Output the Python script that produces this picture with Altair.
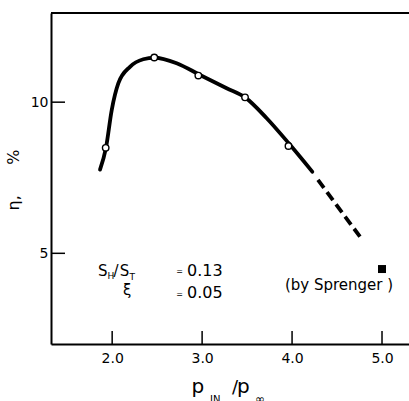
import altair as alt
import pandas as pd

# Efficiency curve, eta (%) vs pressure ratio p_IN / p_inf
curve_x = [1.865, 1.931, 1.995, 2.068, 2.198, 2.346, 2.468, 2.717, 2.977,
           3.273, 3.477, 3.718, 3.963, 4.225]
curve_y = [7.77, 8.49, 9.74, 10.62, 11.17, 11.42, 11.47, 11.29, 10.90,
           10.46, 10.16, 9.47, 8.64, 7.70]

# Extrapolated (dashed) continuation
dash_x = [4.288, 4.755]
dash_y = [7.43, 5.55]

# Measured points
meas_x = [1.928, 2.468, 2.958, 3.477, 3.960]
meas_y = [8.49, 11.48, 10.88, 10.16, 8.55]

# Sprenger's value
spr_x = [5.0]
spr_y = [4.48]

x_ticks = [2.0, 3.0, 4.0, 5.0]
y_ticks = [5, 10]

W, H = 358, 331
FONT = "DejaVu Sans"
NB = "\u00a0"

xs = alt.Scale(domain=[1.32, 5.30], nice=False, zero=False)
ys = alt.Scale(domain=[2.0, 12.95], nice=False, zero=False)

xa = alt.Axis(values=x_ticks, format=".1f", title=None, ticks=False, tickSize=0,
              grid=False, domainColor="black", domainWidth=2,
              labelFont=FONT, labelFontSize=14, labelColor="black",
              labelPadding=7, labelFlush=False)
ya = alt.Axis(values=y_ticks, format="d", ticks=False, tickSize=0, grid=False,
              domainColor="black", domainWidth=2,
              labelFont=FONT, labelFontSize=14, labelColor="black",
              labelPadding=3,
              title="η," + NB * 6 + "%", titleFont=FONT, titleFontSize=16,
              titleFontWeight="normal", titleColor="black", titleAngle=270,
              titleX=-38, titleY=166.5, titleAlign="center",
              titleBaseline="middle")

X = lambda f: alt.X(f, type="quantitative", scale=xs, axis=xa)
Y = lambda f: alt.Y(f, type="quantitative", scale=ys, axis=ya)

curve = alt.Chart(pd.DataFrame({"x": curve_x, "y": curve_y})).mark_line(
    color="black", strokeWidth=3.8, interpolate="monotone", strokeCap="round"
).encode(x=X("x"), y=Y("y"))

dashed = alt.Chart(pd.DataFrame({"x": dash_x, "y": dash_y})).mark_line(
    color="black", strokeWidth=3.8, strokeDash=[10, 5.2]
).encode(x=X("x"), y=Y("y"))

points = alt.Chart(pd.DataFrame({"x": meas_x, "y": meas_y})).mark_circle(
    size=42, fill="white", stroke="black", strokeWidth=1.4, opacity=1
).encode(x=X("x"), y=Y("y"))

sprenger = alt.Chart(pd.DataFrame({"x": spr_x, "y": spr_y})).mark_square(
    size=64, color="black", opacity=1
).encode(x=X("x"), y=Y("y"))

# inward tick marks
xtick = alt.Chart(pd.DataFrame({"x": x_ticks})).mark_rule(
    color="black", strokeWidth=1.5
).encode(x=X("x"), y=alt.value(H), y2=alt.value(H - 13))

ytick = alt.Chart(pd.DataFrame({"y": y_ticks})).mark_rule(
    color="black", strokeWidth=1.5
).encode(y=Y("y"), x=alt.value(0), x2=alt.value(14))

# top frame line
top = alt.Chart(pd.DataFrame({"k": [0]})).mark_rule(
    color="black", strokeWidth=2
).encode(x=alt.value(0), x2=alt.value(W), y=alt.value(0))

# text pieces: label, x, y, font size
ann_t = ["S", "H", "/", "S", "T", "=", "0.13",
         "ξ", "=", "0.05",
         "(by Sprenger" + NB + ")",
         "p", "IN", "/", "p", "∞"]
ann_x = [1.843, 1.947, 2.016, 2.083, 2.192, 2.712, 2.832,
         2.120, 2.712, 2.832,
         3.921,
         2.882, 3.088, 3.332, 3.388, 3.588]
ann_y = [4.25, 4.14, 4.25, 4.25, 4.12, 4.30, 4.25,
         3.62, 3.57, 3.52,
         3.80,
         0.38, 0.04, 0.38, 0.38, 0.06]
ann_fs = [15, 9, 15, 15, 9, 8, 16,
          15, 8, 16,
          15,
          20, 10, 18, 20, 12]

texts = alt.Chart(pd.DataFrame({"t": ann_t, "x": ann_x, "y": ann_y, "fs": ann_fs})).mark_text(
    align="left", baseline="alphabetic", font=FONT, color="black"
).encode(x=X("x"), y=Y("y"), text="t:N", size=alt.Size("fs:Q", scale=None))

chart = alt.layer(curve, dashed, points, sprenger, xtick, ytick, top, texts).properties(
    width=W, height=H,
    autosize=alt.AutoSizeParams(type="none"),
    padding={"left": 51, "top": 13, "right": 0, "bottom": 57},
).configure_view(stroke=None).configure(background="white")

chart.save("out.html", embed_options={"renderer": "svg", "actions": False})
